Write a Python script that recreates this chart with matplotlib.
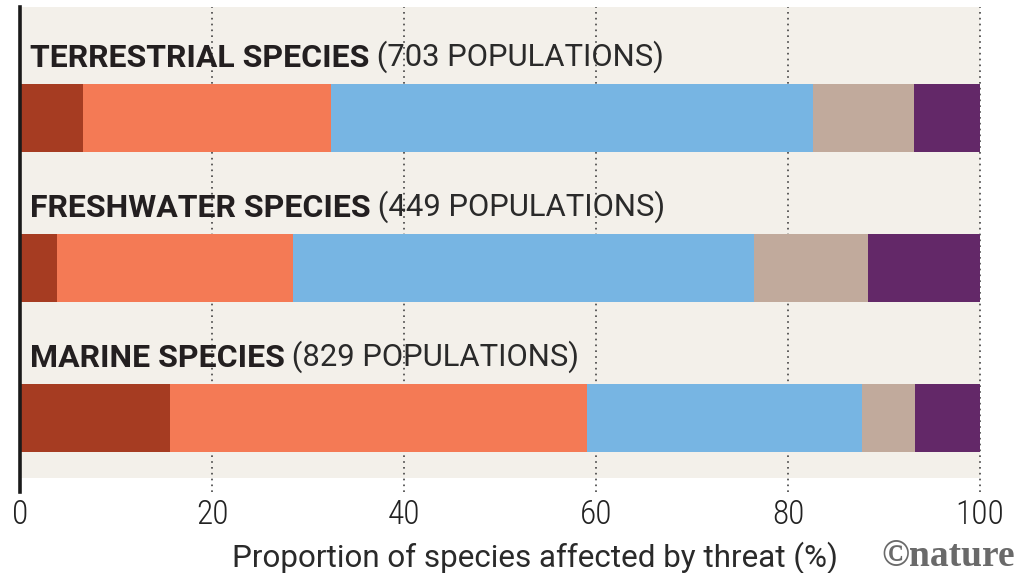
import matplotlib
matplotlib.use('Agg')
import matplotlib.pyplot as plt
import numpy as np

# datos (porcentajes por amenaza)
grupos = ['TERRESTRIAL SPECIES', 'FRESHWATER SPECIES', 'MARINE SPECIES']
poblaciones = ['(703 POPULATIONS)', '(449 POPULATIONS)', '(829 POPULATIONS)']
amenaza_1 = [6.6, 3.9, 15.6]
amenaza_2 = [25.8, 24.5, 43.5]
amenaza_3 = [50.2, 48.1, 28.6]
amenaza_4 = [10.5, 11.8, 5.5]
amenaza_5 = [6.9, 11.7, 6.8]
ticks_x = [0, 20, 40, 60, 80, 100]
etiqueta_x = 'Proportion of species affected by threat (%)'

colores = ['#a63c22', '#f47a55', '#77b5e3', '#c1aa9c', '#632868']
fondo = '#f3f0ea'
fuente = ['Roboto', 'DejaVu Sans']
fuente_cond = ['Roboto Condensed', 'Roboto', 'DejaVu Sans']

fig = plt.figure(figsize=(10.2, 5.73), dpi=100)
ax = fig.add_axes([20/1020, 1 - 478/573, 960/1020, 471/573])
ax.set_facecolor(fondo)

y = np.arange(len(grupos))
segmentos = [amenaza_1, amenaza_2, amenaza_3, amenaza_4, amenaza_5]
izq = np.zeros(len(grupos))
for seg, col in zip(segmentos, colores):
    ax.barh(y, seg, left=izq, height=0.45, color=col, zorder=3)
    izq = izq + np.array(seg)

ax.set_xlim(0, 100)
ax.set_ylim(2.4, -0.74)

# grilla punteada, baja un poco por debajo del panel
for t in ticks_x[1:]:
    ax.axvline(t, ymin=-0.03, ymax=1, color='#444444', lw=1.2, ls=(0, (1, 2.5)),
               clip_on=False, zorder=1)
# eje izquierdo
ax.axvline(0, ymin=-0.03, ymax=1, color='#1a1a1a', lw=2.6, clip_on=False, zorder=5)

for s in ax.spines.values():
    s.set_visible(False)
ax.set_yticks([])
ax.set_xticks(ticks_x)
ax.set_xticklabels([str(t) for t in ticks_x], family=fuente_cond, fontsize=24,
                   fontweight='light', color='#222222')
ax.tick_params(axis='x', length=0, pad=15)

# titulos de cada grupo
for i, (g, p) in enumerate(zip(grupos, poblaciones)):
    t1 = ax.text(1.0, i - 0.4, g, family=fuente, fontweight='bold', fontsize=23,
                 color='#231f20', va='center', ha='left')
    ax.annotate(' ' + p, xy=(1, 0), xycoords=t1, va='bottom', ha='left',
                family=fuente, fontsize=22.3, fontweight='normal', color='#2a2a2a')

fig.text(232/1020, 1 - 558/573, etiqueta_x, family=fuente, fontsize=22.6,
         fontweight='normal', color='#2a2a2a', va='center', ha='left')
fig.text(1015/1020, 1 - 556/573, '\u00a9nature', family=['Liberation Serif', 'DejaVu Serif'],
         fontsize=27, fontweight='bold', color='#6a6a6a', va='center', ha='right')

fig.savefig('out.png', dpi=100, facecolor='white')
